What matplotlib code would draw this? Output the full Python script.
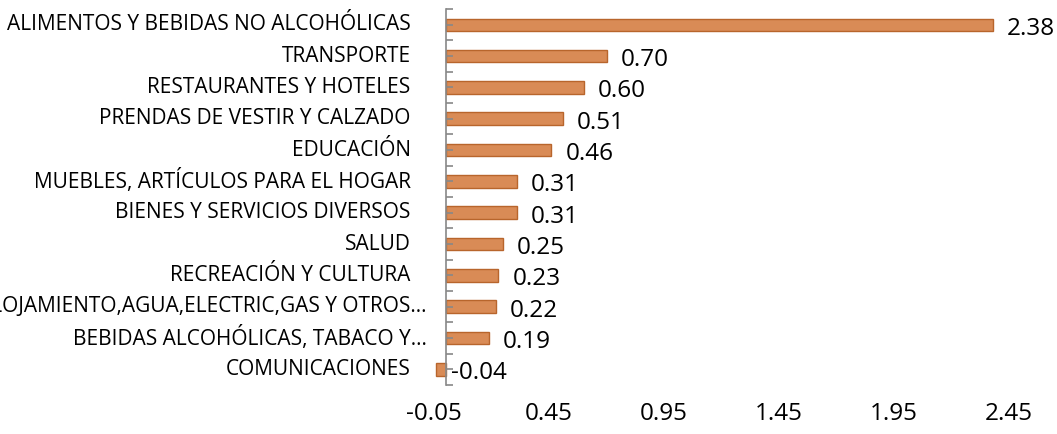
import matplotlib.pyplot as plt
import matplotlib.transforms as mtransforms
import numpy as np

plt.rcParams['font.family'] = ['Open Sans', 'DejaVu Sans']

categorias = ["ALIMENTOS Y BEBIDAS NO ALCOHÓLICAS",
              "TRANSPORTE",
              "RESTAURANTES Y HOTELES",
              "PRENDAS DE VESTIR Y CALZADO",
              "EDUCACIÓN",
              "MUEBLES, ARTÍCULOS PARA EL HOGAR",
              "BIENES Y SERVICIOS DIVERSOS",
              "SALUD",
              "RECREACIÓN Y CULTURA",
              "ALOJAMIENTO,AGUA,ELECTRIC,GAS Y OTROS…",
              "BEBIDAS ALCOHÓLICAS, TABACO Y…",
              "COMUNICACIONES"]
valores = [2.38, 0.70, 0.60, 0.51, 0.46, 0.31, 0.31, 0.25, 0.23, 0.22, 0.19, -0.04]
etiquetas = ["2.38", "0.70", "0.60", "0.51", "0.46", "0.31", "0.31", "0.25",
             "0.23", "0.22", "0.19", "-0.04"]
xticks = [-0.05, 0.45, 0.95, 1.45, 1.95, 2.45]

fig = plt.figure(figsize=(10.57, 4.34), dpi=100)
ax = fig.add_axes([0.4106, 0.113, 0.544, 0.866])

n = len(categorias)
y = np.arange(n)[::-1]
ax.barh(y, valores, height=0.4, color='#D98B56', edgecolor='#B8652C', linewidth=1.0)

ax.set_xlim(-0.05, 2.45)
ax.set_ylim(-0.5, n - 0.5)

# etiquetas de valor
for yi, v, lab in zip(y, valores, etiquetas):
    x0 = max(v, 0)
    dx = 14 if v > 0 else 5
    off = mtransforms.offset_copy(ax.transData, fig=fig, x=dx, y=-4, units='dots')
    ax.text(x0, yi, lab, transform=off, ha='left', va='center', fontsize=17.5, color='black')

# categorias
ax.set_yticks(y)
ax.set_yticklabels([])
ax.set_yticks(np.arange(n + 1) - 0.5, minor=True)
ax.tick_params(axis='y', which='both', direction='in', length=5, color='#888888', width=1.2)
for yi, c in zip(y, categorias):
    dx = -19 if c.endswith('…') else -35
    off = mtransforms.offset_copy(ax.transData, fig=fig, x=dx, y=0, units='dots')
    ax.text(0, yi, c, transform=off, ha='right', va='center', fontsize=15, color='black')

ax.set_xticks(xticks)
ax.set_xticklabels(["%.2f" % t for t in xticks], fontsize=17.5)
ax.tick_params(axis='x', length=0, pad=12)

for s in ['top', 'right', 'bottom']:
    ax.spines[s].set_visible(False)
ax.spines['left'].set_position(('data', 0))
ax.spines['left'].set_color('#888888')
ax.spines['left'].set_linewidth(1.2)

fig.savefig('out.png', dpi=100)
